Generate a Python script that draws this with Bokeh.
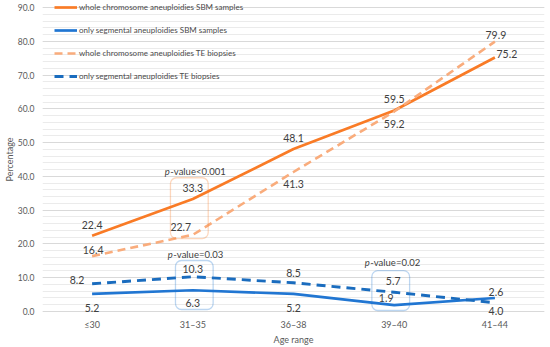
from bokeh.plotting import figure
from bokeh.models import (ColumnDataSource, FixedTicker, NumeralTickFormatter,
                          Legend, LegendItem, BoxAnnotation, Label)
from bokeh.core.properties import value
from bokeh.embed import file_html
from bokeh.resources import INLINE

# ---------------- data ----------------
age_ranges = ["≤30", "31–35", "36–38", "39–40", "41–44"]
whole_sbm = [22.4, 33.3, 48.1, 59.5, 75.2]
segmental_sbm = [5.2, 6.3, 5.2, 1.9, 4.0]
whole_te = [16.4, 22.7, 41.3, 59.2, 79.9]
segmental_te = [8.2, 10.3, 8.5, 5.7, 2.6]
y_ticks = [0, 10, 20, 30, 40, 50, 60, 70, 80, 90]
y_minor_ticks = list(range(0, 91, 2))

series_names = ["whole chromosome aneuploidies SBM samples",
                "only segmental aneuploidies SBM samples",
                "whole chromosome aneuploidies TE biopsies",
                "only segmental aneuploidies TE biopsies"]

# label offsets (screen px) per point
off_whole_sbm = [(0, -11), (0, -11), (0, -11), (0, -12), (12, -3)]
off_seg_sbm = [(0, 14), (0, 13), (0, 14), (-8, -7), (1, 13)]
off_whole_te = [(1, -6), (-12, -8), (0, 12), (0, 12), (1, -7)]
off_seg_te = [(-15, -4), (0, -8), (0, -10), (-1, -11), (1, -11)]

C_ORANGE = "#F97B26"
C_LORANGE = "#F9AC7C"
C_BLUE = "#2176D2"
C_DBLUE = "#1A6CBE"
TXT = "#404040"
AX = "#595959"
FONT = "Lato"

xs = list(range(len(age_ranges)))

p = figure(width=550, height=347, output_backend="svg", toolbar_location=None,
           x_range=(-0.4926, 4.4926), y_range=(-2.07, 92.07),
           min_border_left=38, min_border_right=6, min_border_top=0,
           min_border_bottom=29)
p.outline_line_color = None
p.background_fill_color = "white"
p.border_fill_color = "white"

# grid
p.xgrid.grid_line_color = None
p.yaxis.ticker = FixedTicker(ticks=y_ticks, minor_ticks=y_minor_ticks)
p.ygrid.ticker = FixedTicker(ticks=y_ticks, minor_ticks=y_minor_ticks)
p.ygrid.grid_line_color = "#D9D9D9"
p.ygrid.grid_line_width = 1
p.ygrid.minor_grid_line_color = "#EBEBEB"
p.ygrid.minor_grid_line_width = 1

# axes
p.yaxis.formatter = NumeralTickFormatter(format="0.0")
p.yaxis.axis_line_color = None
p.yaxis.major_tick_line_color = None
p.yaxis.minor_tick_line_color = None
p.yaxis.major_tick_out = 0
p.yaxis.minor_tick_out = 0
p.yaxis.major_label_standoff = 8
p.yaxis.major_label_text_font = FONT
p.yaxis.major_label_text_font_size = "8.5px"
p.yaxis.major_label_text_color = AX
p.yaxis.axis_label = "Percentage"
p.yaxis.axis_label_standoff = 0
p.yaxis.axis_label_text_font = FONT
p.yaxis.axis_label_text_font_size = "9px"
p.yaxis.axis_label_text_font_style = "normal"
p.yaxis.axis_label_text_color = AX

p.xaxis.ticker = FixedTicker(ticks=xs)
p.xaxis.major_label_overrides = {i: lab for i, lab in enumerate(age_ranges)}
p.xaxis.axis_line_color = None
p.xaxis.major_tick_line_color = None
p.xaxis.minor_tick_line_color = None
p.xaxis.major_tick_out = 0
p.xaxis.minor_tick_out = 0
p.xaxis.major_label_standoff = 0
p.xaxis.major_label_text_font = FONT
p.xaxis.major_label_text_font_size = "9px"
p.xaxis.major_label_text_color = AX
p.xaxis.axis_label = "Age range"
p.xaxis.axis_label_standoff = 1
p.xaxis.axis_label_text_font = FONT
p.xaxis.axis_label_text_font_size = "9px"
p.xaxis.axis_label_text_font_style = "normal"
p.xaxis.axis_label_text_color = AX

# lines
r1 = p.line(xs, whole_sbm, line_color=C_ORANGE, line_width=2.7)
r2 = p.line(xs, segmental_sbm, line_color=C_BLUE, line_width=2.7)
r3 = p.line(xs, whole_te, line_color=C_LORANGE, line_width=2.6, line_dash="8 5")
r4 = p.line(xs, segmental_te, line_color=C_DBLUE, line_width=2.9, line_dash="9 6")

# data labels
for vals, offs in [(whole_sbm, off_whole_sbm), (segmental_sbm, off_seg_sbm),
                   (whole_te, off_whole_te), (segmental_te, off_seg_te)]:
    src = ColumnDataSource(dict(x=xs, y=vals, t=[f"{v:.1f}" for v in vals],
                                dx=[o[0] for o in offs], dy=[o[1] for o in offs]))
    p.text(x="x", y="y", text="t", x_offset="dx", y_offset="dy", source=src,
           text_align="center", text_baseline="middle",
           text_font=value(FONT), text_font_size="10.5px", text_color=TXT)

# highlight boxes
p.add_layout(BoxAnnotation(left=0.778, right=1.153, top=39.6, bottom=21.6,
                           fill_alpha=0, line_color=C_ORANGE, line_width=1.3,
                           border_radius=6))
p.add_layout(BoxAnnotation(left=0.828, right=1.202, top=15.1, bottom=0.6,
                           fill_alpha=0, line_color=C_BLUE, line_width=1.3,
                           border_radius=6))
p.add_layout(BoxAnnotation(left=2.778, right=3.153, top=12.1, bottom=0.3,
                           fill_alpha=0, line_color=C_BLUE, line_width=1.3,
                           border_radius=6))

# p-value annotations
for (xv, yv, rest, xo) in [(1, 41.4, "-value<0.001", -28),
                           (1, 16.9, "-value=0.03", -25),
                           (2.966, 14.5, "-value=0.02", -26)]:
    p.add_layout(Label(x=xv, y=yv, text="p", x_offset=xo, text_align="left",
                       text_baseline="middle", text_font=FONT,
                       text_font_style="italic", text_font_size="9.5px",
                       text_color=TXT))
    p.add_layout(Label(x=xv, y=yv, text=rest, x_offset=xo + 5.5, text_align="left",
                       text_baseline="middle", text_font=FONT,
                       text_font_size="9.5px", text_color=TXT))

# legend (location = bottom-left of legend box, from frame bottom-left)
legend = Legend(items=[LegendItem(label=series_names[0], renderers=[r1]),
                       LegendItem(label=series_names[1], renderers=[r2]),
                       LegendItem(label=series_names[2], renderers=[r3]),
                       LegendItem(label=series_names[3], renderers=[r4])],
                location=(12, 235), orientation="vertical",
                padding=0, margin=0, spacing=9,
                glyph_height=14, glyph_width=23, label_height=14,
                label_standoff=2, label_text_font=FONT,
                label_text_font_size="8px", label_text_color="#4A4A4A",
                label_text_baseline="middle",
                background_fill_alpha=0, border_line_color=None)
p.add_layout(legend)

open("out.html", "w").write(file_html(p, INLINE))
